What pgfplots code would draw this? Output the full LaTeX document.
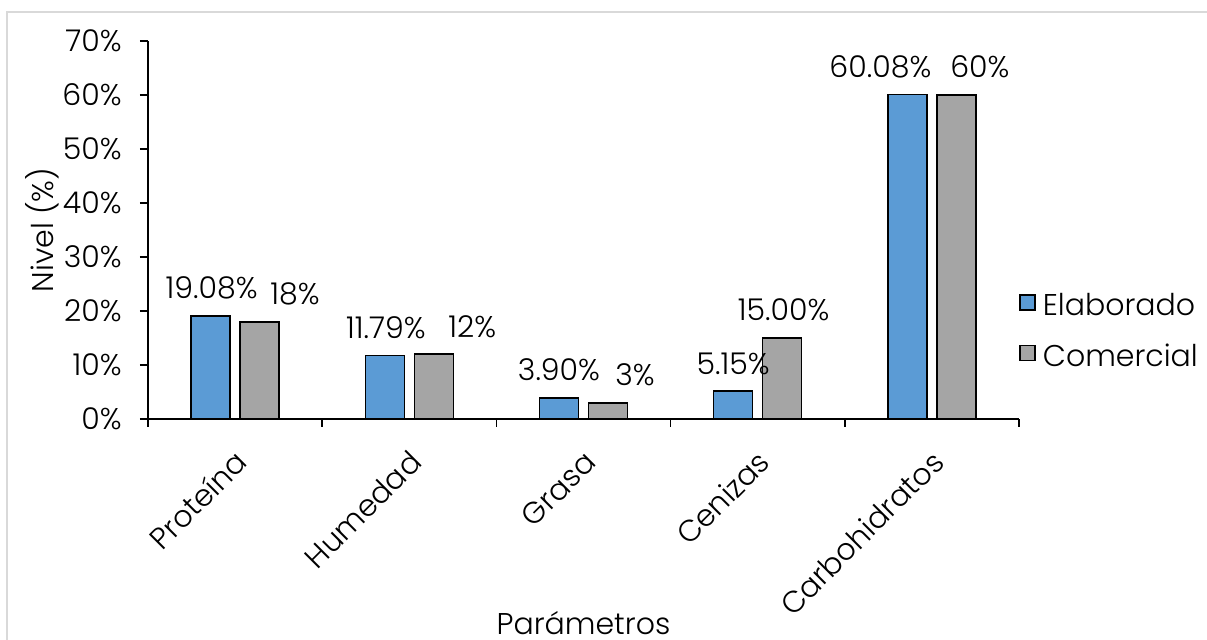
\documentclass[border=0pt]{standalone}
\usepackage{fontspec}
\setmainfont{Poppins}[UprightFont={* Light}]
\usepackage{pgfplots}
\usepackage{pgfplotstable}
\pgfplotsset{compat=1.18}

\definecolor{elab}{HTML}{5B9BD5}
\definecolor{comer}{HTML}{A5A5A5}
\definecolor{marco}{HTML}{D9D9D9}

% valores en %, lab = texto de la etiqueta, dx = desplazamiento de la etiqueta (pt)
\pgfplotstableread{
x y lab dx
0 19.08 19.08 0.5
1 11.79 11.79 0.5
2 3.90 3.90 0
3 5.15 5.15 0
4 60.08 60.08 -13.5
}\elaborado
\pgfplotstableread{
x y lab dx
0 18 18 17.75
1 12 12 19.25
2 3 3 13.5
3 15 15.00 0.75
4 60 60 11.75
}\comercial

\begin{document}
\fontsize{15}{18}\selectfont
\begin{tikzpicture}
\useasboundingbox (-74pt,-110.5pt) rectangle (529.5pt,209.5pt);
\draw[marco, line width=0.75pt] (-70.5pt,-130pt) -- (-70.5pt,203.5pt) -- (560pt,203.5pt);
\begin{axis}[
    at={(0,0)}, anchor=south west,
    scale only axis,
    width=435.5pt, height=189pt,
    ybar=5pt, bar width=19.5pt,
    xmin=-0.5, xmax=4.5,
    ymin=0, ymax=70,
    axis lines*=left,
    axis line style={line width=0.75pt},
    xtick={0,...,4},
    xticklabels={Proteína,Humedad,Grasa,Cenizas,Carbohidratos},
    major x tick style={draw=none},
    minor xtick={-0.5,0.5,...,4.5},
    ytick={0,10,...,70},
    yticklabel={\pgfmathprintnumber[assume math mode=true]{\tick}\%},
    tick align=outside,
    major tick length=4pt, minor tick length=4pt,
    tick style={black, line width=0.75pt},
    yticklabel style={anchor=east, inner sep=0pt, xshift=-9pt},
    xticklabel style={xshift=-0.75pt, yshift=-10.75pt, rotate=45, anchor=north east,
        inner sep=0pt, text height=11pt, text depth=0pt},
    xlabel={Parámetros},
    ylabel={Nivel (\%)},
    xlabel style={at={(axis description cs:0.5,-0.54)}, anchor=center},
    ylabel style={at={(axis description cs:-0.1217,0.5)}, anchor=center},
    point meta=explicit symbolic,
    visualization depends on={\thisrow{dx} \as \labdx},
    nodes near coords={\pgfplotspointmeta\%},
    nodes near coords style={anchor=south, inner sep=0pt, yshift=8pt, xshift=\labdx pt, black},
    clip=false,
    legend style={at={(1.0,0.23)}, anchor=west, draw=none, fill=none,
        inner sep=0pt, row sep=12pt, column sep=3.5pt,
        nodes={inner sep=0pt}},
    legend cell align=left,
    legend image code/.code={\draw[#1] (0pt,-1.65pt) rectangle (7.5pt,5.85pt);},
]
\addplot[fill=elab, draw=black, line width=0.75pt] table[x=x, y=y, meta=lab] {\elaborado};
\addlegendentry{Elaborado}
\addplot[fill=comer, draw=black, line width=0.75pt] table[x=x, y=y, meta=lab] {\comercial};
\addlegendentry{Comercial}
\end{axis}
\end{tikzpicture}
\end{document}
